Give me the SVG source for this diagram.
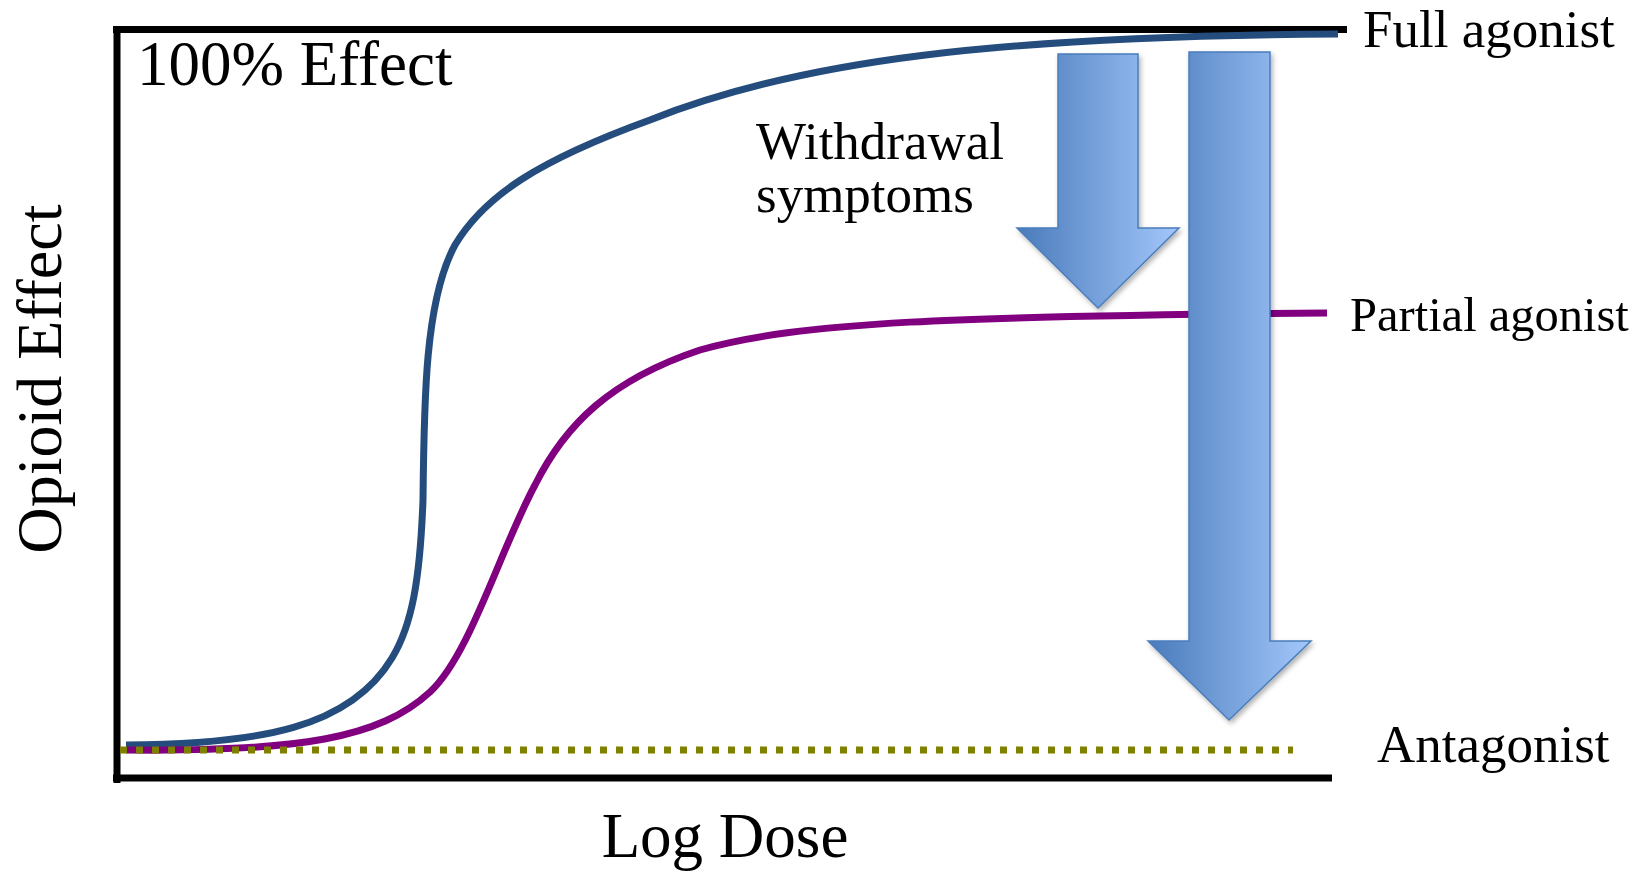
<svg xmlns="http://www.w3.org/2000/svg" width="1645" height="874" viewBox="0 0 1645 874">
<style>
.t{font-family:"Liberation Serif","Times New Roman",serif;fill:#000}
.axis{stroke:#000;stroke-width:7;fill:none}
.curve{fill:none;stroke-width:7;stroke-linecap:butt}
.arr{fill:url(#ag);stroke:#4A7EBB;stroke-width:1.5;filter:url(#sh)}
</style>
<defs>
<linearGradient id="ag" x1="0" y1="0" x2="1" y2="0">
<stop offset="0" stop-color="#4A7BBB"/>
<stop offset="1" stop-color="#A3C7FB"/>
</linearGradient>
<filter id="sh" x="-20%" y="-10%" width="140%" height="130%">
<feDropShadow dx="2" dy="3" stdDeviation="2.5" flood-color="#000" flood-opacity="0.3"/>
</filter>
</defs>
<g id="axes">
<path class="axis" d="M113,29.5 H1347"/>
<path class="axis" d="M117,26 V783"/>
<path class="axis" d="M113,778 H1332"/>
</g>
<g id="connectors">
<path id="full-curve" class="curve" stroke="#244D7E" d="M126,745 C260,744 350,728 392,658 C412,625 420,580 423,500 C424,400 425,300 455,245 C485,195 540,160 650,120 C800,60 1000,36 1338,34"/>
<path id="partial-curve" class="curve" stroke="#800080" d="M126,750 C300,752 380,738 430,692 C470,655 500,550 535,485 C565,425 610,380 700,350 C800,322 950,316 1327,313"/>
<path id="antagonist-line" class="curve" stroke="#808000" stroke-dasharray="7 9" d="M120,750 H1293"/>
</g>
<g id="arrow-withdrawal">
<polygon class="arr" points="1058,54 1138,54 1138,228 1179,228 1098,308 1017,228 1058,228"/>
</g>
<g id="arrow-antagonist">
<polygon class="arr" points="1189,52 1270,52 1270,641 1311,641 1229,720 1148,641 1189,641"/>
</g>
<g id="label-100">
<text class="t" x="137" y="85" font-size="63">100% Effect</text>
</g>
<g id="label-full">
<text class="t" x="1363" y="47" font-size="53">Full agonist</text>
</g>
<g id="label-partial">
<text class="t" x="1350" y="331" font-size="48.5">Partial agonist</text>
</g>
<g id="label-antagonist">
<text class="t" x="1377" y="762" font-size="53">Antagonist</text>
</g>
<g id="label-withdrawal">
<text class="t" x="756" y="159" font-size="53">Withdrawal</text>
<text class="t" x="756" y="212" font-size="53">symptoms</text>
</g>
<g id="label-x">
<text class="t" x="725" y="857" font-size="63" text-anchor="middle">Log Dose</text>
</g>
<g id="label-y">
<text class="t" x="0" y="0" font-size="64" text-anchor="middle" transform="translate(61,379) rotate(-90)">Opioid Effect</text>
</g>
</svg>
